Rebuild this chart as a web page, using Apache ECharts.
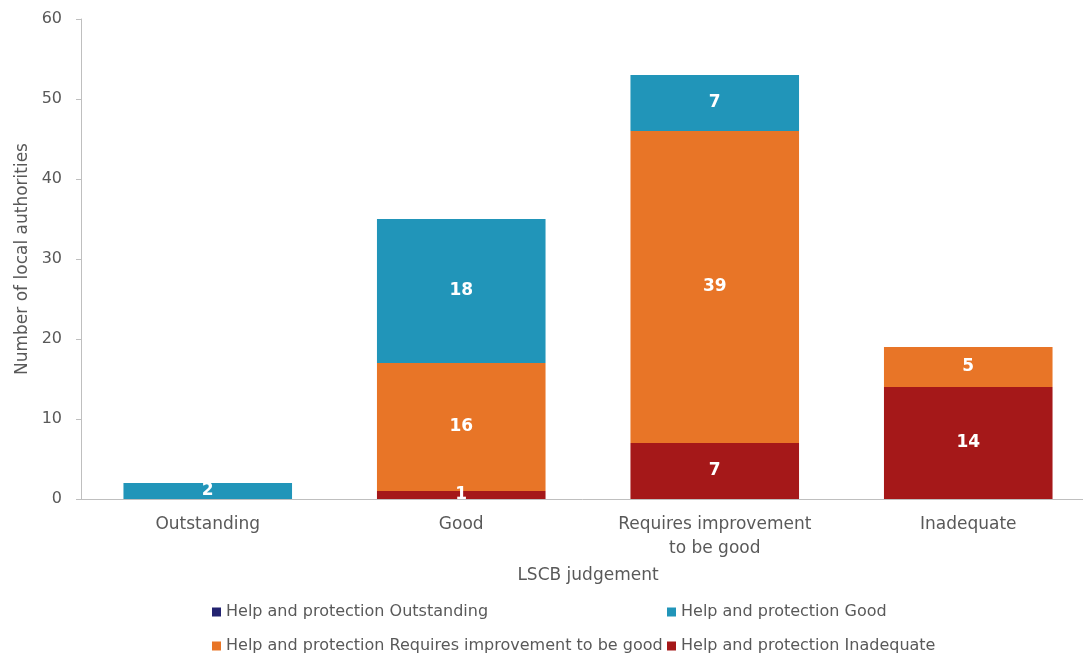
<!DOCTYPE html>
<html>
<head>
<meta charset="utf-8">
<script src="https://cdn.jsdelivr.net/npm/echarts@6/dist/echarts.min.js"></script>
<style>
html,body{margin:0;padding:0;background:#fff;}
#chart{width:1083px;height:656px;}
</style>
</head>
<body>
<div id="chart"></div>
<script>
const categories = ['Outstanding', 'Good', 'Requires improvement\nto be good', 'Inadequate'];
const seriesNames = [
  'Help and protection Outstanding',
  'Help and protection Good',
  'Help and protection Requires improvement to be good',
  'Help and protection Inadequate'
];
const inadequateValues = [0, 1, 7, 14];
const requiresImprovementValues = [0, 16, 39, 5];
const goodValues = [2, 18, 7, 0];
const outstandingValues = [0, 0, 0, 0];
const yTicks = [0, 10, 20, 30, 40, 50, 60];

const FONT = 'DejaVu Sans';
const TXT = '#595959';
const colors = {
  out: '#232370',
  good: '#2195b9',
  ri: '#e87527',
  inad: '#a51819'
};

const labelCfg = {
  show: true,
  position: 'inside',
  color: '#fff',
  fontWeight: 'bold',
  fontFamily: FONT,
  fontSize: 17,
  formatter: p => (p.value ? String(p.value) : '')
};

function bar(name, data, color) {
  return {
    name: name,
    type: 'bar',
    stack: 'total',
    data: data,
    barWidth: '66.5%',
    itemStyle: { color: color },
    label: labelCfg,
    emphasis: { disabled: true }
  };
}

function legendAt(name, left, top) {
  return {
    data: [name],
    left: left,
    top: top,
    padding: 0,
    itemWidth: 9,
    itemHeight: 9,
    icon: 'rect',
    itemGap: 4,
    selectedMode: false,
    textStyle: { color: TXT, fontFamily: FONT, fontSize: 16 }
  };
}

const chart = echarts.init(document.getElementById('chart'), null, { renderer: 'canvas' });
chart.setOption({
  animation: false,
  backgroundColor: '#fff',
  grid: { left: 81, width: 1014, top: 19, height: 480, containLabel: false, outerBoundsMode: 'none' },
  legend: [
    legendAt(seriesNames[0], 212, 604),
    legendAt(seriesNames[1], 667, 604),
    legendAt(seriesNames[2], 212, 638),
    legendAt(seriesNames[3], 667, 638)
  ],
  xAxis: {
    type: 'category',
    data: categories,
    name: 'LSCB judgement',
    nameLocation: 'middle',
    nameGap: 68,
    nameTextStyle: { color: TXT, fontFamily: FONT, fontSize: 17 },
    axisLine: { lineStyle: { color: '#bfbfbf', width: 1 } },
    axisTick: { show: false },
    axisLabel: { interval: 0, color: TXT, fontFamily: FONT, fontSize: 17, margin: 14, lineHeight: 24 }
  },
  yAxis: {
    type: 'value',
    min: yTicks[0],
    max: yTicks[yTicks.length - 1],
    interval: 10,
    name: 'Number of local authorities',
    nameLocation: 'middle',
    nameGap: 49,
    nameTextStyle: { color: TXT, fontFamily: FONT, fontSize: 17 },
    axisLine: { show: true, lineStyle: { color: '#bfbfbf', width: 1 } },
    axisTick: { show: true, length: 5, lineStyle: { color: '#bfbfbf' } },
    splitLine: { show: false },
    axisLabel: { color: TXT, fontFamily: FONT, fontSize: 16, margin: 19 }
  },
  series: [
    bar(seriesNames[3], inadequateValues, colors.inad),
    bar(seriesNames[2], requiresImprovementValues, colors.ri),
    bar(seriesNames[1], goodValues, colors.good),
    bar(seriesNames[0], outstandingValues, colors.out)
  ]
});
</script>
</body>
</html>
